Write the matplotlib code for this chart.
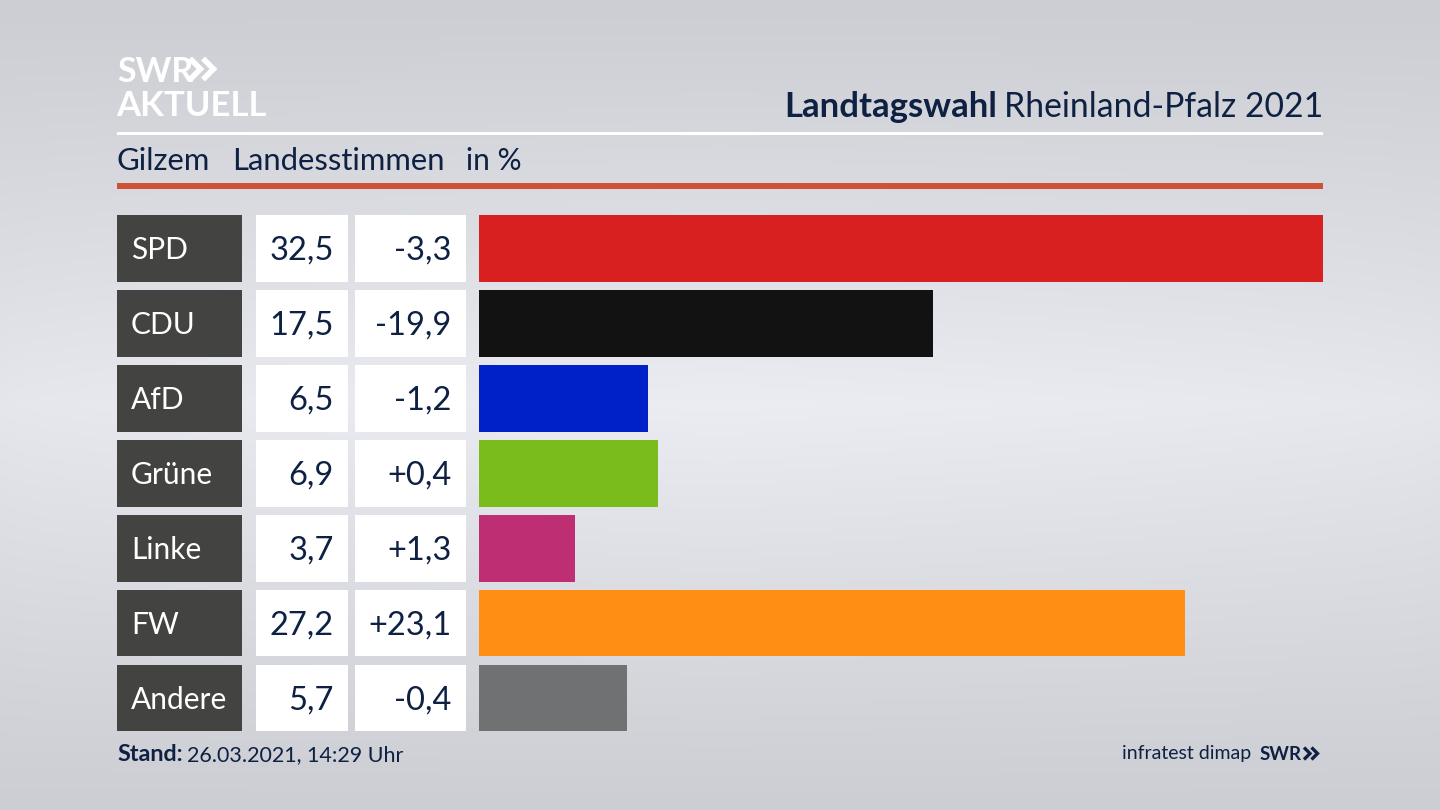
import numpy as np
import matplotlib
matplotlib.use('Agg')
from matplotlib import pyplot as plt
from matplotlib.patches import Rectangle

plt.rcParams['font.family'] = ['Lato', 'DejaVu Sans']

parties = ['SPD', 'CDU', 'AfD', 'Grüne', 'Linke', 'FW', 'Andere']
shares = [32.5, 17.5, 6.5, 6.9, 3.7, 27.2, 5.7]
changes = ['-3,3', '-19,9', '-1,2', '+0,4', '+1,3', '+23,1', '-0,4']
colors = ['#d7201f', '#121212', '#0021c8', '#79bc1b', '#bd2e72', '#ff8e14', '#707172']

W, H = 1440, 810
NAVY = '#0e2143'

fig = plt.figure(figsize=(W / 100, H / 100), dpi=100)

# background and everything that is not a bar, in pixel coords
bg = fig.add_axes([0, 0, 1, 1])
bg.set_xlim(0, W)
bg.set_ylim(H, 0)
bg.axis('off')

yy = np.linspace(0, 1, 256)
shade = 1 - np.abs(yy - 0.5) * 2
xx = np.linspace(0, 1, 256)
edge = 1 - np.abs(xx - 0.5) * 2
grad = 0.80 + 0.12 * shade[:, None] ** 1.1 * (0.8 + 0.2 * edge[None, :] ** 0.6)
rgb = np.dstack([grad, grad + 0.008, grad + 0.028])
bg.imshow(np.clip(rgb, 0, 1), extent=(0, W, H, 0), aspect='auto', zorder=0)


def chevrons(x, y, half_h, width, step, color, lw):
    for dx in (0, step):
        bg.plot([x + dx, x + dx + width, x + dx], [y - half_h, y, y + half_h],
                color=color, lw=lw, solid_joinstyle='miter', solid_capstyle='butt')


# header
bg.text(117, 82, 'SWR', color='white', fontsize=24.5, fontweight='bold', va='baseline', ha='left')
chevrons(190, 69, 10.5, 10.5, 13, 'white', 4)
bg.text(116, 116, 'AKTUELL', color='white', fontsize=25, fontweight='bold', va='baseline', ha='left')
bg.text(997, 117, 'Landtagswahl', color=NAVY, fontsize=25, fontweight='bold', va='baseline', ha='right')
bg.text(1323, 117, 'Rheinland-Pfalz 2021', color=NAVY, fontsize=24.3, va='baseline', ha='right')
bg.add_patch(Rectangle((117, 132), 1206, 3, color='white', lw=0))
bg.text(117, 170, 'Gilzem', color=NAVY, fontsize=22.3, va='baseline', ha='left')
bg.text(232, 170, 'Landesstimmen', color=NAVY, fontsize=22.3, va='baseline', ha='left')
bg.text(466, 170, 'in %', color=NAVY, fontsize=21.5, va='baseline', ha='left')
bg.add_patch(Rectangle((117, 183), 1206, 6, color='#cf5238', lw=0))

# table cells beside the bars
row_h = 66.7
pitch = 74.95
for i, (party, share, change) in enumerate(zip(parties, shares, changes)):
    top = 215 + i * pitch
    base = top + 45
    bg.add_patch(Rectangle((117, top), 124.5, row_h, color='#434341', lw=0))
    bg.add_patch(Rectangle((256, top), 92, row_h, color='white', lw=0))
    bg.add_patch(Rectangle((355, top), 111, row_h, color='white', lw=0))
    bg.text(131, top + 44, party, color='white', fontsize=21.5, va='baseline', ha='left')
    bg.text(333.5, base, f'{share:.1f}'.replace('.', ','), color=NAVY, fontsize=23.5, va='baseline', ha='right')
    bg.text(451.5, base, change, color=NAVY, fontsize=23.5, va='baseline', ha='right')

# footer
bg.text(117, 761, 'Stand:', color=NAVY, fontsize=16.8, fontweight='bold', va='baseline', ha='left')
bg.text(187, 761, '26.03.2021, 14:29 Uhr', color=NAVY, fontsize=15.5, va='baseline', ha='left')
bg.text(1251, 759, 'infratest dimap', color=NAVY, fontsize=14, va='baseline', ha='right')
bg.text(1302, 760, 'SWR', color=NAVY, fontsize=13.5, fontweight='bold', va='baseline', ha='right')
chevrons(1304, 753.5, 6, 6, 7.5, NAVY, 2.4)

# bars
ax = fig.add_axes([479 / W, 1 - (215 + 6 * pitch + row_h) / H, (1323 - 479) / W, (6 * pitch + row_h) / H])
ax.patch.set_alpha(0)
pos = np.arange(len(parties))
ax.barh(pos, shares, height=row_h / pitch, color=colors)
ax.set_xlim(0, 32.5)
ax.set_ylim(len(parties) - 1 + row_h / pitch / 2, -row_h / pitch / 2)
ax.axis('off')

fig.savefig('out.png', dpi=100)
